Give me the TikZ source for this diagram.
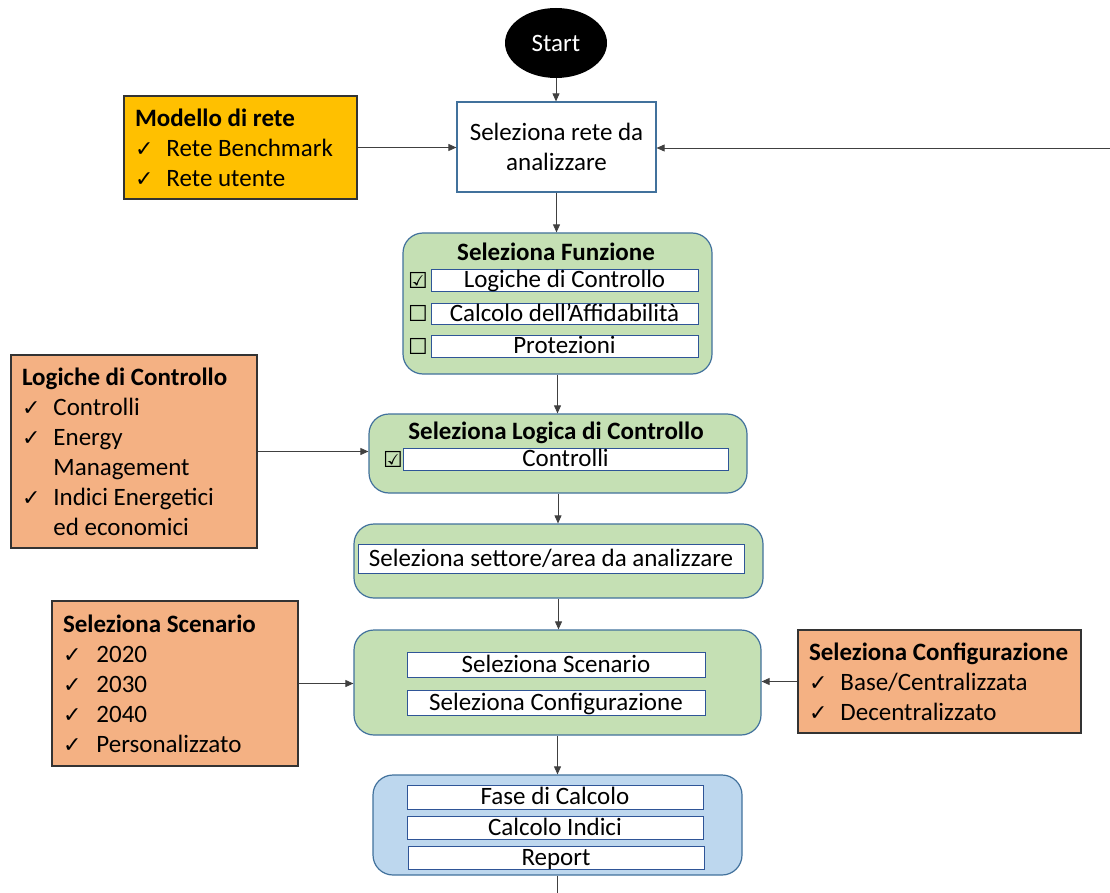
\documentclass[tikz,border=0pt]{standalone}
\usepackage{fontspec}
\setmainfont{Carlito}
\newfontfamily\symf{DejaVu Sans}
\usetikzlibrary{shapes.geometric,arrows.meta}
\definecolor{bordblue}{HTML}{41719C}
\definecolor{innblue}{HTML}{2F5597}
\definecolor{gfill}{HTML}{C5E0B4}
\definecolor{bfill}{HTML}{BDD7EE}
\definecolor{ofill}{HTML}{F4B183}
\definecolor{yfill}{HTML}{FFC000}
\newcommand{\chk}{{\fontsize{22}{30}\selectfont\symf ✓}}
\newcommand{\cbon}{{\fontsize{22}{22}\selectfont\symf ☑}}
\newcommand{\cboff}{{\fontsize{22}{22}\selectfont\symf ☐}}
\newcommand{\nsp}{\vspace*{-6pt}\spaceskip=0pt\relax\xspaceskip=0pt\relax\noindent}
\tikzset{
  txt/.style={font=\fontsize{25}{30}\selectfont},
  whitebox/.style={txt, draw=bordblue, line width=1.2pt, fill=white, align=center},
  obox/.style={txt, draw=black!80, line width=1.5pt, fill=ofill, align=left, inner xsep=11pt, inner ysep=0pt},
  gbox/.style={draw=bordblue, line width=1.2pt, fill=gfill, rounded corners=20pt},
  bbox/.style={draw=bordblue, line width=1.2pt, fill=bfill, rounded corners=20pt},
  ibox/.style={txt, draw=innblue, line width=1pt, fill=white, inner sep=0pt, text height=16pt, text depth=1pt},
  ttl/.style={font=\fontsize{25}{30}\selectfont\bfseries},
  cbx/.style={inner sep=0pt},
  conn/.style={draw=black!75, line width=0.8pt, -{Triangle[length=8pt,width=7pt]}},
  plain/.style={draw=black!75, line width=0.8pt}
}
\begin{document}
\begin{tikzpicture}[x=1pt,y=-1pt]
\useasboundingbox (0,0) rectangle (1110,893);
% start
\node[ellipse, fill=black, text=white, txt, minimum width=102pt, minimum height=70pt, inner sep=0pt] (start) at (556,43) {Start};
% rete
\node[whitebox, minimum width=199pt, minimum height=90pt] (rete) at (556.5,147) {Seleziona rete da\\analizzare};
% modello
\node[obox, fill=yfill, text width=211pt, minimum height=103pt] (modello) at (240.5,147.5) {\nsp\begin{tabular}{@{}l@{\hspace{13pt}}l@{}}
\multicolumn{2}{@{}l@{}}{\bfseries Modello di rete}\\
\chk & Rete Benchmark\\
\chk & Rete utente
\end{tabular}};
\coordinate (rin) at (1110,148);
% funzione
\node[gbox, minimum width=309pt, minimum height=141pt] (funz) at (557.5,303.5) {};
\node[ttl] (funzT) at (556,252) {Seleziona Funzione};
\node[ibox, minimum width=267pt, minimum height=22pt] (f1) at (564.5,280) {Logiche di Controllo};
\node[ibox, minimum width=267pt, minimum height=21pt] (f2) at (564.5,313.5) {Calcolo dell’Affidabilità};
\node[ibox, minimum width=267pt, minimum height=22pt] (f3) at (564.5,346) {Protezioni};
\node[cbx] (cb1) at (418,280) {\cbon};
\node[cbx] (cb2) at (418,313.5) {\cboff};
\node[cbx] (cb3) at (418,346) {\cboff};
% logiche orange
\node[obox, text width=224pt, minimum height=193pt] (logiche) at (134,451.5) {\nsp\begin{tabular}{@{}l@{\hspace{13pt}}l@{}}
\multicolumn{2}{@{}l@{}}{\bfseries Logiche di Controllo}\\
\chk & Controlli\\
\chk & Energy\\
 & Management\\
\chk & Indici Energetici\\
 & ed economici
\end{tabular}};
% logica green
\node[gbox, minimum width=378pt, minimum height=79pt] (logica) at (558,453.5) {};
\node[ttl] (logicaT) at (556,433) {Seleziona Logica di Controllo};
\node[ibox, minimum width=325pt, minimum height=22pt] (l1) at (565.5,459) {Controlli};
\node[cbx] (cb4) at (393,459) {\cbon};
% settore
\node[gbox, minimum width=409pt, minimum height=74pt] (settore) at (558.5,561) {};
\node[ibox, minimum width=386pt, minimum height=29pt] (s0) at (551,558.5) {Seleziona settore/area da analizzare};
% scenario green
\node[gbox, minimum width=407pt, minimum height=105pt] (scen) at (557.5,682.5) {};
\node[ibox, minimum width=298pt, minimum height=25pt] (sc1) at (556,664.5) {Seleziona Scenario};
\node[ibox, minimum width=298pt, minimum height=25pt] (sc2) at (556,702.5) {Seleziona Configurazione};
% scenario orange
\node[obox, text width=224pt, minimum height=165pt] (scenO) at (175,683.5) {\nsp\begin{tabular}{@{}l@{\hspace{15pt}}l@{}}
\multicolumn{2}{@{}l@{}}{\bfseries Seleziona Scenario}\\
\chk & 2020\\
\chk & 2030\\
\chk & 2040\\
\chk & Personalizzato
\end{tabular}};
% configurazione orange
\node[obox, text width=261pt, minimum height=103pt] (confO) at (939.5,681.5) {\nsp\begin{tabular}{@{}l@{\hspace{13pt}}l@{}}
\multicolumn{2}{@{}l@{}}{\bfseries Seleziona Configurazione}\\
\chk & Base/Centralizzata\\
\chk & Decentralizzato
\end{tabular}};
% calcolo blue
\node[bbox, minimum width=369pt, minimum height=100pt] (calc) at (557.5,825) {};
\node[ibox, minimum width=296pt, minimum height=24pt] (c1) at (555,797) {Fase di Calcolo};
\node[ibox, minimum width=296pt, minimum height=23pt] (c2) at (555,827.5) {Calcolo Indici};
\node[ibox, minimum width=296pt, minimum height=23pt] (c3) at (556,857.5) {Report};
\coordinate (endc) at (556,893);
% connectors
\draw[conn] (start.south) -- (start.south |- rete.north);
\draw[conn] (modello.east) -- (modello.east -| rete.west);
\draw[conn] (rin) -- (rin -| rete.east);
\draw[conn] (rete.south) -- (rete.south |- funz.north);
\draw[conn] (funz.south) -- (funz.south |- logica.north);
\draw[conn] (logiche.east) -- (logiche.east -| logica.west);
\draw[conn] (logica.south) -- (logica.south |- settore.north);
\draw[conn] (settore.south) -- (settore.south |- scen.north);
\draw[conn] (scenO.east) -- (scenO.east -| scen.west);
\draw[conn] (confO.west) -- (confO.west -| scen.east);
\draw[conn] (scen.south) -- (scen.south |- calc.north);
\draw[plain] (calc.south) -- (calc.south |- endc);
\end{tikzpicture}
\end{document}
